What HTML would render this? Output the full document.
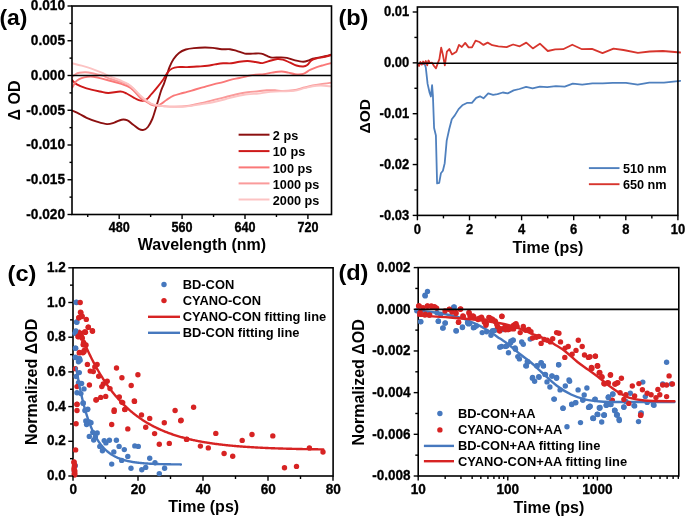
<!DOCTYPE html>
<html><head><meta charset="utf-8"><style>
html,body{margin:0;padding:0;background:#fff;}
body{width:685px;height:516px;overflow:hidden;}
svg{display:block;will-change:transform;}
text{font-family:"Liberation Sans",sans-serif;font-weight:bold;fill:#000;}
.tk{stroke:#000;stroke-width:0.3px;}
</style></head><body>
<svg width="685" height="516" viewBox="0 0 685 516">
<rect width="685" height="516" fill="#fff"/>
<defs><clipPath id="clipA"><rect x="72" y="6" width="259.5" height="208.5"/></clipPath><clipPath id="clipB"><rect x="417.4" y="7" width="263.5" height="208.4"/></clipPath><clipPath id="clipD"><rect x="415.2" y="267.6" width="263.59999999999997" height="208.39999999999998"/></clipPath></defs>
<g clip-path="url(#clipA)">
<path d="M72,110.5 C73.22,111.07 76.87,112.68 79.3,113.9 C81.73,115.12 83.68,116.52 86.6,117.8 C89.52,119.08 93.4,120.55 96.8,121.6 C100.2,122.65 104.08,123.93 107,124.1 C109.92,124.27 111.87,123.33 114.3,122.6 C116.73,121.87 119.4,120.07 121.6,119.7 C123.8,119.33 125.55,119.55 127.5,120.4 C129.45,121.25 131.35,123.33 133.3,124.8 C135.25,126.27 137.5,128.35 139.2,129.2 C140.9,130.05 142.05,130.27 143.5,129.9 C144.95,129.53 146.43,128.82 147.9,127 C149.37,125.18 151.08,121.8 152.3,119 C153.52,116.2 154.25,113.2 155.2,110.2 C156.15,107.2 157.03,104.2 158,101 C158.97,97.8 159.98,93.93 161,91 C162.02,88.07 163.13,86.02 164.1,83.4 C165.07,80.78 165.9,78.02 166.8,75.3 C167.7,72.58 168.37,69.82 169.5,67.1 C170.63,64.38 172.02,61.37 173.6,59 C175.18,56.63 176.97,54.48 179,52.9 C181.03,51.32 183.32,50.3 185.8,49.5 C188.28,48.7 190.73,48.43 193.9,48.1 C197.07,47.77 201.63,47.53 204.8,47.5 C207.97,47.47 210.07,47.62 212.9,47.9 C215.73,48.18 218.97,48.98 221.8,49.2 C224.63,49.42 227.42,48.92 229.9,49.2 C232.38,49.48 234.2,50.17 236.7,50.9 C239.2,51.63 242.18,53.15 244.9,53.6 C247.62,54.05 250.28,53.6 253,53.6 C255.72,53.6 258.72,53.15 261.2,53.6 C263.68,54.05 266.1,55.63 267.9,56.3 C269.7,56.97 269.97,57.42 272,57.6 C274.03,57.78 277.62,57.35 280.1,57.4 C282.58,57.45 284.4,57.4 286.9,57.9 C289.4,58.4 292.38,59.77 295.1,60.4 C297.82,61.03 300.93,61.7 303.2,61.7 C305.47,61.7 307.12,60.9 308.7,60.4 C310.28,59.9 310.9,59.2 312.7,58.7 C314.5,58.2 317.23,57.85 319.5,57.4 C321.77,56.95 324.3,56.48 326.3,56 C328.3,55.52 330.63,54.75 331.5,54.5" fill="none" stroke="#8c1010" stroke-width="1.9" stroke-linejoin="round" stroke-linecap="round"/>
<path d="M72,80 C72.8,80.73 74.38,83.02 76.8,84.4 C79.22,85.78 82.63,87.12 86.5,88.3 C90.37,89.48 96.38,90.72 100,91.5 C103.62,92.28 104.8,93 108.2,93 C111.6,93 117.33,91.42 120.4,91.5 C123.47,91.58 124.38,92.48 126.6,93.5 C128.82,94.52 131.67,96.5 133.7,97.6 C135.73,98.7 137.27,99.58 138.8,100.1 C140.33,100.62 141.53,100.87 142.9,100.7 C144.27,100.53 145.63,100.13 147,99.1 C148.37,98.07 149.4,96.45 151.1,94.5 C152.8,92.55 155.15,89.95 157.2,87.4 C159.25,84.85 161.58,81.78 163.4,79.2 C165.22,76.62 166.63,73.68 168.1,71.9 C169.57,70.12 170.62,69.3 172.2,68.5 C173.78,67.7 175.12,67.33 177.6,67.1 C180.08,66.87 183.7,67.2 187.1,67.1 C190.5,67 194.6,66.72 198,66.5 C201.4,66.28 204.67,66.15 207.5,65.8 C210.33,65.45 212.4,64.82 215,64.4 C217.6,63.98 220.38,63.48 223.1,63.3 C225.82,63.12 228.58,63.57 231.3,63.3 C234.02,63.03 236.68,62.08 239.4,61.7 C242.12,61.32 244.88,60.95 247.6,61 C250.32,61.05 253.22,61.65 255.7,62 C258.18,62.35 260.23,63.27 262.5,63.1 C264.77,62.93 266.82,61.68 269.3,61 C271.78,60.32 275.13,59.22 277.4,59 C279.67,58.78 280.87,59.13 282.9,59.7 C284.93,60.27 287.35,61.43 289.6,62.4 C291.85,63.37 294.13,64.82 296.4,65.5 C298.67,66.18 301.38,66.57 303.2,66.5 C305.02,66.43 305.93,66.12 307.3,65.1 C308.67,64.08 309.82,61.53 311.4,60.4 C312.98,59.27 314.77,58.87 316.8,58.3 C318.83,57.73 321.15,57.55 323.6,57 C326.05,56.45 330.18,55.33 331.5,55" fill="none" stroke="#cd1919" stroke-width="1.9" stroke-linejoin="round" stroke-linecap="round"/>
<path d="M72.3,87.5 C72.9,86.5 74.73,82.9 75.9,81.5 C77.07,80.1 77.93,79.78 79.3,79.1 C80.67,78.42 82.25,77.82 84.1,77.4 C85.95,76.98 88.38,76.63 90.4,76.6 C92.42,76.57 94.27,76.85 96.2,77.2 C98.13,77.55 99.57,78.07 102,78.7 C104.43,79.33 107.73,80.18 110.8,81 C113.87,81.82 117.08,82.43 120.4,83.6 C123.72,84.77 127.28,85.52 130.7,88 C134.12,90.48 138.35,96.25 140.9,98.5 C143.45,100.75 144.32,100.5 146,101.5 C147.68,102.5 149.13,103.78 151,104.5 C152.87,105.22 155.48,105.93 157.2,105.8 C158.92,105.67 159.7,104.72 161.3,103.7 C162.9,102.68 164.75,101.03 166.8,99.7 C168.85,98.37 171.33,96.72 173.6,95.7 C175.87,94.68 178.15,94.23 180.4,93.6 C182.65,92.97 184.62,92.58 187.1,91.9 C189.58,91.22 192.35,90.35 195.3,89.5 C198.25,88.65 201.63,87.7 204.8,86.8 C207.97,85.9 211.25,84.88 214.3,84.1 C217.35,83.32 220.27,82.85 223.1,82.1 C225.93,81.35 228.58,80.28 231.3,79.6 C234.02,78.92 236.68,78.6 239.4,78 C242.12,77.4 244.88,76.57 247.6,76 C250.32,75.43 252.98,74.9 255.7,74.6 C258.42,74.3 261.18,74.53 263.9,74.2 C266.62,73.87 269.07,73.05 272,72.6 C274.93,72.15 278.78,71.5 281.5,71.5 C284.22,71.5 286.03,72.15 288.3,72.6 C290.57,73.05 292.62,73.98 295.1,74.2 C297.58,74.42 300.72,74.62 303.2,73.9 C305.68,73.18 307.73,71.03 310,69.9 C312.27,68.77 314.53,67.9 316.8,67.1 C319.07,66.3 321.15,65.78 323.6,65.1 C326.05,64.42 330.18,63.35 331.5,63" fill="none" stroke="#fa7878" stroke-width="1.9" stroke-linejoin="round" stroke-linecap="round"/>
<path d="M72.3,76.8 C72.83,76.37 74.33,74.87 75.5,74.2 C76.67,73.53 77.62,73.12 79.3,72.8 C80.98,72.48 83.42,72.23 85.6,72.3 C87.78,72.37 90.47,72.83 92.4,73.2 C94.33,73.57 95.6,74.13 97.2,74.5 C98.8,74.87 99.73,74.65 102,75.4 C104.27,76.15 107.72,77.9 110.8,79 C113.88,80.1 117.6,81.07 120.5,82 C123.4,82.93 125.95,83.35 128.2,84.6 C130.45,85.85 131.88,87.43 134,89.5 C136.12,91.57 138.9,95.15 140.9,97 C142.9,98.85 144.32,99.43 146,100.6 C147.68,101.77 149.13,103.17 151,104 C152.87,104.83 154.87,105.22 157.2,105.6 C159.53,105.98 162.27,106.13 165,106.3 C167.73,106.47 169.92,106.65 173.6,106.6 C177.28,106.55 182.58,106.55 187.1,106 C191.62,105.45 196.05,104.35 200.7,103.3 C205.35,102.25 210.8,100.75 215,99.7 C219.2,98.65 222.28,97.9 225.9,97 C229.52,96.1 233.08,95.08 236.7,94.3 C240.32,93.52 243.98,92.8 247.6,92.3 C251.22,91.8 255.23,91.65 258.4,91.3 C261.57,90.95 263.83,90.38 266.6,90.2 C269.37,90.02 272.28,90.07 275,90.2 C277.72,90.33 279.78,91 282.9,91 C286.02,91 290.08,90.78 293.7,90.2 C297.32,89.62 301.43,88.28 304.6,87.5 C307.77,86.72 309.98,86.07 312.7,85.5 C315.42,84.93 317.77,84.57 320.9,84.1 C324.03,83.63 329.73,82.93 331.5,82.7" fill="none" stroke="#fa9b9b" stroke-width="1.9" stroke-linejoin="round" stroke-linecap="round"/>
<path d="M72,63.2 C73.62,63.62 78.47,64.8 81.7,65.7 C84.93,66.6 88.17,67.48 91.4,68.6 C94.63,69.72 97.87,71.03 101.1,72.4 C104.33,73.77 107.57,75.45 110.8,76.8 C114.03,78.15 117.6,79.28 120.5,80.5 C123.4,81.72 125.95,82.68 128.2,84.1 C130.45,85.52 131.88,87.02 134,89 C136.12,90.98 138.9,94.13 140.9,96 C142.9,97.87 144.32,98.95 146,100.2 C147.68,101.45 149.13,102.65 151,103.5 C152.87,104.35 154.87,104.83 157.2,105.3 C159.53,105.77 162.27,106.05 165,106.3 C167.73,106.55 169.92,106.78 173.6,106.8 C177.28,106.82 182.58,106.82 187.1,106.4 C191.62,105.98 196.05,105.07 200.7,104.3 C205.35,103.53 210.8,102.68 215,101.8 C219.2,100.92 222.28,99.92 225.9,99 C229.52,98.08 233.08,97.08 236.7,96.3 C240.32,95.52 243.98,94.75 247.6,94.3 C251.22,93.85 255.23,93.93 258.4,93.6 C261.57,93.27 263.83,92.63 266.6,92.3 C269.37,91.97 272.28,91.77 275,91.6 C277.72,91.43 279.78,91.42 282.9,91.3 C286.02,91.18 290.08,91.42 293.7,90.9 C297.32,90.38 301.43,88.98 304.6,88.2 C307.77,87.42 309.98,86.65 312.7,86.2 C315.42,85.75 317.77,85.47 320.9,85.5 C324.03,85.53 329.73,86.25 331.5,86.4" fill="none" stroke="#fcc3c3" stroke-width="1.9" stroke-linejoin="round" stroke-linecap="round"/>
</g>
<line x1="72" y1="75.5" x2="331.5" y2="75.5" stroke="#000" stroke-width="1.7"/>
<rect x="72" y="6" width="259.5" height="208.5" fill="none" stroke="#000" stroke-width="1.6"/>
<line x1="67.5" y1="6" x2="72" y2="6" stroke="#000" stroke-width="1.4"/>
<text transform="translate(65.1 10.3) scale(1.0 1.04)" font-size="13.7" text-anchor="end" class="tk">0.010</text>
<line x1="67.5" y1="40.75" x2="72" y2="40.75" stroke="#000" stroke-width="1.4"/>
<text transform="translate(65.1 45.05) scale(1.0 1.04)" font-size="13.7" text-anchor="end" class="tk">0.005</text>
<line x1="67.5" y1="75.5" x2="72" y2="75.5" stroke="#000" stroke-width="1.4"/>
<text transform="translate(65.1 79.8) scale(1.0 1.04)" font-size="13.7" text-anchor="end" class="tk">0.000</text>
<line x1="67.5" y1="110.25" x2="72" y2="110.25" stroke="#000" stroke-width="1.4"/>
<text transform="translate(65.1 114.55) scale(1.0 1.04)" font-size="13.7" text-anchor="end" class="tk">-0.005</text>
<line x1="67.5" y1="145" x2="72" y2="145" stroke="#000" stroke-width="1.4"/>
<text transform="translate(65.1 149.3) scale(1.0 1.04)" font-size="13.7" text-anchor="end" class="tk">-0.010</text>
<line x1="67.5" y1="179.75" x2="72" y2="179.75" stroke="#000" stroke-width="1.4"/>
<text transform="translate(65.1 184.05) scale(1.0 1.04)" font-size="13.7" text-anchor="end" class="tk">-0.015</text>
<line x1="67.5" y1="214.5" x2="72" y2="214.5" stroke="#000" stroke-width="1.4"/>
<text transform="translate(65.1 218.8) scale(1.0 1.04)" font-size="13.7" text-anchor="end" class="tk">-0.020</text>
<line x1="69.5" y1="23.38" x2="72" y2="23.38" stroke="#000" stroke-width="1.4"/>
<line x1="69.5" y1="58.12" x2="72" y2="58.12" stroke="#000" stroke-width="1.4"/>
<line x1="69.5" y1="92.88" x2="72" y2="92.88" stroke="#000" stroke-width="1.4"/>
<line x1="69.5" y1="127.63" x2="72" y2="127.63" stroke="#000" stroke-width="1.4"/>
<line x1="69.5" y1="162.38" x2="72" y2="162.38" stroke="#000" stroke-width="1.4"/>
<line x1="69.5" y1="197.13" x2="72" y2="197.13" stroke="#000" stroke-width="1.4"/>
<line x1="119.18" y1="214.5" x2="119.18" y2="219" stroke="#000" stroke-width="1.4"/>
<text transform="translate(119.18 232) scale(1.0 1.1)" font-size="12.6" text-anchor="middle" class="tk">480</text>
<line x1="182.09" y1="214.5" x2="182.09" y2="219" stroke="#000" stroke-width="1.4"/>
<text transform="translate(182.09 232) scale(1.0 1.1)" font-size="12.6" text-anchor="middle" class="tk">560</text>
<line x1="245" y1="214.5" x2="245" y2="219" stroke="#000" stroke-width="1.4"/>
<text transform="translate(245 232) scale(1.0 1.1)" font-size="12.6" text-anchor="middle" class="tk">640</text>
<line x1="307.91" y1="214.5" x2="307.91" y2="219" stroke="#000" stroke-width="1.4"/>
<text transform="translate(307.91 232) scale(1.0 1.1)" font-size="12.6" text-anchor="middle" class="tk">720</text>
<line x1="87.73" y1="214.5" x2="87.73" y2="217" stroke="#000" stroke-width="1.4"/>
<line x1="150.64" y1="214.5" x2="150.64" y2="217" stroke="#000" stroke-width="1.4"/>
<line x1="213.55" y1="214.5" x2="213.55" y2="217" stroke="#000" stroke-width="1.4"/>
<line x1="276.45" y1="214.5" x2="276.45" y2="217" stroke="#000" stroke-width="1.4"/>
<text x="202" y="250.1" font-size="16" text-anchor="middle">Wavelength (nm)</text>
<text x="20.2" y="100.5" font-size="16" text-anchor="middle" transform="rotate(-90 20.2 100.5)">&#916; OD</text>
<text transform="translate(-0.6 24.9) scale(1.04 1.03)" font-size="22" text-anchor="start">(a)</text>
<line x1="238.6" y1="134.7" x2="269.5" y2="134.7" stroke="#8c1010" stroke-width="2.0"/>
<text transform="translate(272.8 140) scale(1.0 1.05)" font-size="12.7" text-anchor="start">2 ps</text>
<line x1="238.6" y1="151.1" x2="269.5" y2="151.1" stroke="#cd1919" stroke-width="2.0"/>
<text transform="translate(272.8 156.4) scale(1.0 1.05)" font-size="12.7" text-anchor="start">10 ps</text>
<line x1="238.6" y1="167.4" x2="269.5" y2="167.4" stroke="#fa7878" stroke-width="2.0"/>
<text transform="translate(272.8 172.7) scale(1.0 1.05)" font-size="12.7" text-anchor="start">100 ps</text>
<line x1="238.6" y1="183.4" x2="269.5" y2="183.4" stroke="#fa9b9b" stroke-width="2.0"/>
<text transform="translate(272.8 188.7) scale(1.0 1.05)" font-size="12.7" text-anchor="start">1000 ps</text>
<line x1="238.6" y1="199.5" x2="269.5" y2="199.5" stroke="#fcc3c3" stroke-width="2.0"/>
<text transform="translate(272.8 204.8) scale(1.0 1.05)" font-size="12.7" text-anchor="start">2000 ps</text>
<g clip-path="url(#clipB)">
<polyline points="417,64 420,64 424.6,63.8 425.8,67.6 427.6,83.9 429.6,92.7 430.9,96.5 432.1,85.2 432.9,95.3 434.1,128 435.9,135.5 437.1,183.4 439.2,182.9 440.9,173.3 442.9,170.8 444.7,163.2 446.7,140.6 449.2,129.3 451.8,119.2 454.8,115.4 458.6,109.1 462.3,105.3 467.4,102.8 471.9,102.8 476.2,97.8 480,96.3 483.5,98.3 488.2,93.4 493.1,94.8 497.5,94.2 502.8,92.5 507.7,93.4 513.6,90.4 519.4,89 526.1,86.9 532.6,88.4 539.9,86.6 547.2,87.2 555.9,86.1 564.7,86.6 572.8,83.7 582.2,84.6 592.4,83.4 602.6,83.4 612.8,82.8 626,82.8 637.7,84.6 649.3,82.6 664,82.6 680.5,80.8" fill="none" stroke="#4f80be" stroke-width="1.8" stroke-linejoin="round" stroke-linecap="round"/>
<polyline points="417,63.9 419,66 420.4,61.9 421.8,64.6 423.1,61.5 424.5,63.9 425.8,61 427.2,65.3 428.5,60.5 429.9,63.2 432,62.6 434,66 436,68.3 438,62.6 439.4,59.2 441.2,47.6 442.8,54.4 444.8,65.3 446.9,51.7 449.3,49 452,54.4 456.4,51.7 459,44.9 461.8,47 465.2,42.9 468.6,47.4 472,47.4 475.6,40.6 479.4,42 483.5,44.9 487.6,42.6 492.3,45.2 498.4,46.3 506.6,47.1 513.1,44.5 519.7,46.3 526.3,42.6 532.8,48.4 539.9,43.7 547.8,51 555.2,49.4 563.1,49.2 572.3,44.7 582,49.2 592,48.9 602.5,53.1 613.5,48.7 623.5,50 637.9,52.9 649.8,51.5 662.9,51 680.5,52.5" fill="none" stroke="#d7352d" stroke-width="1.8" stroke-linejoin="round" stroke-linecap="round"/>
</g>
<line x1="417.4" y1="63.2" x2="677.9" y2="63.2" stroke="#000" stroke-width="1.6"/>
<rect x="417.4" y="7" width="260.5" height="208.4" fill="none" stroke="#000" stroke-width="1.6"/>
<line x1="412.7" y1="12" x2="417.4" y2="12" stroke="#000" stroke-width="1.4"/>
<text transform="translate(409.2 16.3) scale(1.0 1.1)" font-size="13" text-anchor="end" class="tk">0.01</text>
<line x1="412.7" y1="62.85" x2="417.4" y2="62.85" stroke="#000" stroke-width="1.4"/>
<text transform="translate(409.2 67.15) scale(1.0 1.1)" font-size="13" text-anchor="end" class="tk">0.00</text>
<line x1="412.7" y1="113.7" x2="417.4" y2="113.7" stroke="#000" stroke-width="1.4"/>
<text transform="translate(409.2 118) scale(1.0 1.1)" font-size="13" text-anchor="end" class="tk">-0.01</text>
<line x1="412.7" y1="164.55" x2="417.4" y2="164.55" stroke="#000" stroke-width="1.4"/>
<text transform="translate(409.2 168.85) scale(1.0 1.1)" font-size="13" text-anchor="end" class="tk">-0.02</text>
<line x1="412.7" y1="215.4" x2="417.4" y2="215.4" stroke="#000" stroke-width="1.4"/>
<text transform="translate(409.2 219.7) scale(1.0 1.1)" font-size="13" text-anchor="end" class="tk">-0.03</text>
<line x1="414.4" y1="37.43" x2="417.4" y2="37.43" stroke="#000" stroke-width="1.4"/>
<line x1="414.4" y1="88.28" x2="417.4" y2="88.28" stroke="#000" stroke-width="1.4"/>
<line x1="414.4" y1="139.12" x2="417.4" y2="139.12" stroke="#000" stroke-width="1.4"/>
<line x1="414.4" y1="189.98" x2="417.4" y2="189.98" stroke="#000" stroke-width="1.4"/>
<line x1="417.4" y1="215.4" x2="417.4" y2="220.3" stroke="#000" stroke-width="1.4"/>
<text transform="translate(417.4 233.8) scale(1.0 1.12)" font-size="13" text-anchor="middle" class="tk">0</text>
<line x1="469.5" y1="215.4" x2="469.5" y2="220.3" stroke="#000" stroke-width="1.4"/>
<text transform="translate(469.5 233.8) scale(1.0 1.12)" font-size="13" text-anchor="middle" class="tk">2</text>
<line x1="521.6" y1="215.4" x2="521.6" y2="220.3" stroke="#000" stroke-width="1.4"/>
<text transform="translate(521.6 233.8) scale(1.0 1.12)" font-size="13" text-anchor="middle" class="tk">4</text>
<line x1="573.7" y1="215.4" x2="573.7" y2="220.3" stroke="#000" stroke-width="1.4"/>
<text transform="translate(573.7 233.8) scale(1.0 1.12)" font-size="13" text-anchor="middle" class="tk">6</text>
<line x1="625.8" y1="215.4" x2="625.8" y2="220.3" stroke="#000" stroke-width="1.4"/>
<text transform="translate(625.8 233.8) scale(1.0 1.12)" font-size="13" text-anchor="middle" class="tk">8</text>
<line x1="677.9" y1="215.4" x2="677.9" y2="220.3" stroke="#000" stroke-width="1.4"/>
<text transform="translate(677.9 233.8) scale(1.0 1.12)" font-size="13" text-anchor="middle" class="tk">10</text>
<line x1="443.45" y1="215.4" x2="443.45" y2="218.4" stroke="#000" stroke-width="1.4"/>
<line x1="495.55" y1="215.4" x2="495.55" y2="218.4" stroke="#000" stroke-width="1.4"/>
<line x1="547.65" y1="215.4" x2="547.65" y2="218.4" stroke="#000" stroke-width="1.4"/>
<line x1="599.75" y1="215.4" x2="599.75" y2="218.4" stroke="#000" stroke-width="1.4"/>
<line x1="651.85" y1="215.4" x2="651.85" y2="218.4" stroke="#000" stroke-width="1.4"/>
<text x="548" y="253.2" font-size="16" text-anchor="middle">Time (ps)</text>
<text x="369.9" y="116.3" font-size="15.5" text-anchor="middle" transform="rotate(-90 369.9 116.3)">&#916;OD</text>
<text transform="translate(338.4 25.1) scale(1.07 1.0)" font-size="22" text-anchor="start">(b)</text>
<line x1="588.9" y1="168.1" x2="619.5" y2="168.1" stroke="#4f80be" stroke-width="1.9"/>
<line x1="588.9" y1="184.2" x2="619.5" y2="184.2" stroke="#d7352d" stroke-width="1.9"/>
<text transform="translate(622.9 173) scale(1.0 1.05)" font-size="12.7" text-anchor="start">510 nm</text>
<text transform="translate(622.9 189.1) scale(1.0 1.05)" font-size="12.7" text-anchor="start">650 nm</text>
<rect x="73" y="267.8" width="260.1" height="208.2" fill="none" stroke="#000" stroke-width="1.6"/>
<circle cx="76.5" cy="302.5" r="2.7" fill="#4678be"/>
<circle cx="76.8" cy="322.2" r="2.7" fill="#4678be"/>
<circle cx="76.1" cy="331.4" r="2.7" fill="#4678be"/>
<circle cx="75.4" cy="333.1" r="2.7" fill="#4678be"/>
<circle cx="75.7" cy="348.3" r="2.7" fill="#4678be"/>
<circle cx="75.4" cy="357.2" r="2.7" fill="#4678be"/>
<circle cx="79.5" cy="358.5" r="2.7" fill="#4678be"/>
<circle cx="76.2" cy="332.3" r="2.7" fill="#4678be"/>
<circle cx="75.4" cy="348.3" r="2.7" fill="#4678be"/>
<circle cx="75.4" cy="357.6" r="2.7" fill="#4678be"/>
<circle cx="80.1" cy="360.2" r="2.7" fill="#4678be"/>
<circle cx="78.5" cy="361.8" r="2.7" fill="#4678be"/>
<circle cx="79.3" cy="372.6" r="2.7" fill="#4678be"/>
<circle cx="76.2" cy="376.5" r="2.7" fill="#4678be"/>
<circle cx="78.5" cy="382.7" r="2.7" fill="#4678be"/>
<circle cx="81.6" cy="383.5" r="2.7" fill="#4678be"/>
<circle cx="77" cy="392.8" r="2.7" fill="#4678be"/>
<circle cx="84" cy="388.9" r="2.7" fill="#4678be"/>
<circle cx="80.9" cy="393.6" r="2.7" fill="#4678be"/>
<circle cx="83.2" cy="402.9" r="2.7" fill="#4678be"/>
<circle cx="87.8" cy="409.1" r="2.7" fill="#4678be"/>
<circle cx="83.1" cy="403.2" r="2.7" fill="#4678be"/>
<circle cx="84.9" cy="410.5" r="2.7" fill="#4678be"/>
<circle cx="87.5" cy="409.6" r="2.7" fill="#4678be"/>
<circle cx="85.8" cy="421" r="2.7" fill="#4678be"/>
<circle cx="89.3" cy="421.9" r="2.7" fill="#4678be"/>
<circle cx="86.6" cy="424.5" r="2.7" fill="#4678be"/>
<circle cx="91" cy="422.8" r="2.7" fill="#4678be"/>
<circle cx="92.8" cy="432.4" r="2.7" fill="#4678be"/>
<circle cx="97.2" cy="432.9" r="2.7" fill="#4678be"/>
<circle cx="89.3" cy="436.4" r="2.7" fill="#4678be"/>
<circle cx="93.7" cy="440" r="2.7" fill="#4678be"/>
<circle cx="95.4" cy="436.8" r="2.7" fill="#4678be"/>
<circle cx="104.2" cy="440.6" r="2.7" fill="#4678be"/>
<circle cx="109.4" cy="440.3" r="2.7" fill="#4678be"/>
<circle cx="105.9" cy="442.9" r="2.7" fill="#4678be"/>
<circle cx="116.4" cy="440.3" r="2.7" fill="#4678be"/>
<circle cx="99.8" cy="446.4" r="2.7" fill="#4678be"/>
<circle cx="102.4" cy="450.8" r="2.7" fill="#4678be"/>
<circle cx="119.1" cy="446.4" r="2.7" fill="#4678be"/>
<circle cx="124.3" cy="449.6" r="2.7" fill="#4678be"/>
<circle cx="113.8" cy="451.9" r="2.7" fill="#4678be"/>
<circle cx="127.8" cy="456.4" r="2.7" fill="#4678be"/>
<circle cx="121.7" cy="460.4" r="2.7" fill="#4678be"/>
<circle cx="134.8" cy="445.9" r="2.7" fill="#4678be"/>
<circle cx="138.3" cy="446.4" r="2.7" fill="#4678be"/>
<circle cx="149.7" cy="458.2" r="2.7" fill="#4678be"/>
<circle cx="155" cy="462.7" r="2.7" fill="#4678be"/>
<circle cx="111.7" cy="464.1" r="2.7" fill="#4678be"/>
<circle cx="131" cy="468.3" r="2.7" fill="#4678be"/>
<circle cx="141.8" cy="469.7" r="2.7" fill="#4678be"/>
<circle cx="145.7" cy="467.4" r="2.7" fill="#4678be"/>
<circle cx="159.3" cy="473.6" r="2.7" fill="#4678be"/>
<circle cx="164.6" cy="468.3" r="2.7" fill="#4678be"/>
<circle cx="75.3" cy="465.7" r="2.7" fill="#4678be"/>
<circle cx="74.4" cy="471.8" r="2.7" fill="#4678be"/>
<circle cx="76.3" cy="302.2" r="2.7" fill="#4678be"/>
<circle cx="76.7" cy="322" r="2.7" fill="#4678be"/>
<circle cx="75.9" cy="330.9" r="2.7" fill="#4678be"/>
<circle cx="75.1" cy="333.2" r="2.7" fill="#4678be"/>
<circle cx="80.2" cy="302.5" r="2.7" fill="#d72323"/>
<circle cx="80.9" cy="312.8" r="2.7" fill="#d72323"/>
<circle cx="81.9" cy="316.5" r="2.7" fill="#d72323"/>
<circle cx="78.8" cy="317.8" r="2.7" fill="#d72323"/>
<circle cx="86.3" cy="319.4" r="2.7" fill="#d72323"/>
<circle cx="88.3" cy="327.3" r="2.7" fill="#d72323"/>
<circle cx="92.4" cy="330.7" r="2.7" fill="#d72323"/>
<circle cx="84.9" cy="332.3" r="2.7" fill="#d72323"/>
<circle cx="80.2" cy="334.1" r="2.7" fill="#d72323"/>
<circle cx="78.1" cy="336.8" r="2.7" fill="#d72323"/>
<circle cx="82.2" cy="338.2" r="2.7" fill="#d72323"/>
<circle cx="83.6" cy="344.5" r="2.7" fill="#d72323"/>
<circle cx="86" cy="344.9" r="2.7" fill="#d72323"/>
<circle cx="84.2" cy="350.4" r="2.7" fill="#d72323"/>
<circle cx="79.5" cy="352.4" r="2.7" fill="#d72323"/>
<circle cx="82.9" cy="352.7" r="2.7" fill="#d72323"/>
<circle cx="85.5" cy="332.3" r="2.7" fill="#d72323"/>
<circle cx="92.5" cy="331.2" r="2.7" fill="#d72323"/>
<circle cx="79.3" cy="336.2" r="2.7" fill="#d72323"/>
<circle cx="81.6" cy="337" r="2.7" fill="#d72323"/>
<circle cx="83.2" cy="344.7" r="2.7" fill="#d72323"/>
<circle cx="85.5" cy="345.2" r="2.7" fill="#d72323"/>
<circle cx="79.3" cy="352.9" r="2.7" fill="#d72323"/>
<circle cx="84" cy="351.7" r="2.7" fill="#d72323"/>
<circle cx="87.4" cy="364.4" r="2.7" fill="#d72323"/>
<circle cx="97.1" cy="364.4" r="2.7" fill="#d72323"/>
<circle cx="94.8" cy="366.9" r="2.7" fill="#d72323"/>
<circle cx="90.2" cy="371.1" r="2.7" fill="#d72323"/>
<circle cx="93.3" cy="371.6" r="2.7" fill="#d72323"/>
<circle cx="116.5" cy="368" r="2.7" fill="#d72323"/>
<circle cx="75.4" cy="368.8" r="2.7" fill="#d72323"/>
<circle cx="98.7" cy="376.2" r="2.7" fill="#d72323"/>
<circle cx="121.9" cy="377.8" r="2.7" fill="#d72323"/>
<circle cx="137.9" cy="374.7" r="2.7" fill="#d72323"/>
<circle cx="107.2" cy="381.2" r="2.7" fill="#d72323"/>
<circle cx="103.3" cy="384" r="2.7" fill="#d72323"/>
<circle cx="101.8" cy="386.6" r="2.7" fill="#d72323"/>
<circle cx="89.4" cy="385" r="2.7" fill="#d72323"/>
<circle cx="77" cy="386.6" r="2.7" fill="#d72323"/>
<circle cx="110" cy="388.6" r="2.7" fill="#d72323"/>
<circle cx="131.2" cy="385.5" r="2.7" fill="#d72323"/>
<circle cx="96.4" cy="399.8" r="2.7" fill="#d72323"/>
<circle cx="100.7" cy="397.4" r="2.7" fill="#d72323"/>
<circle cx="105.7" cy="396.4" r="2.7" fill="#d72323"/>
<circle cx="119.3" cy="397" r="2.7" fill="#d72323"/>
<circle cx="122.7" cy="402.6" r="2.7" fill="#d72323"/>
<circle cx="134.3" cy="401" r="2.7" fill="#d72323"/>
<circle cx="77" cy="404.1" r="2.7" fill="#d72323"/>
<circle cx="114.2" cy="410" r="2.7" fill="#d72323"/>
<circle cx="125" cy="409.4" r="2.7" fill="#d72323"/>
<circle cx="77" cy="404.4" r="2.7" fill="#d72323"/>
<circle cx="77" cy="410.5" r="2.7" fill="#d72323"/>
<circle cx="76.1" cy="423.7" r="2.7" fill="#d72323"/>
<circle cx="75.6" cy="449.9" r="2.7" fill="#d72323"/>
<circle cx="74" cy="462" r="2.7" fill="#d72323"/>
<circle cx="74.5" cy="466" r="2.7" fill="#d72323"/>
<circle cx="74" cy="470" r="2.7" fill="#d72323"/>
<circle cx="74.8" cy="473.5" r="2.7" fill="#d72323"/>
<circle cx="95.9" cy="400" r="2.7" fill="#d72323"/>
<circle cx="121.7" cy="402.1" r="2.7" fill="#d72323"/>
<circle cx="134.5" cy="401.4" r="2.7" fill="#d72323"/>
<circle cx="114.1" cy="411.4" r="2.7" fill="#d72323"/>
<circle cx="124.7" cy="409.6" r="2.7" fill="#d72323"/>
<circle cx="111.7" cy="424.5" r="2.7" fill="#d72323"/>
<circle cx="141.5" cy="414.9" r="2.7" fill="#d72323"/>
<circle cx="149.7" cy="418.4" r="2.7" fill="#d72323"/>
<circle cx="127.8" cy="428.9" r="2.7" fill="#d72323"/>
<circle cx="145.7" cy="427.2" r="2.7" fill="#d72323"/>
<circle cx="164.3" cy="422.8" r="2.7" fill="#d72323"/>
<circle cx="154.6" cy="433.6" r="2.7" fill="#d72323"/>
<circle cx="175.1" cy="410.5" r="2.7" fill="#d72323"/>
<circle cx="180.7" cy="420.7" r="2.7" fill="#d72323"/>
<circle cx="159.3" cy="444.3" r="2.7" fill="#d72323"/>
<circle cx="169.3" cy="443.4" r="2.7" fill="#d72323"/>
<circle cx="186.5" cy="439.4" r="2.7" fill="#d72323"/>
<circle cx="181.1" cy="420.3" r="2.7" fill="#d72323"/>
<circle cx="193.6" cy="407.2" r="2.7" fill="#d72323"/>
<circle cx="186.8" cy="439.3" r="2.7" fill="#d72323"/>
<circle cx="200.4" cy="446.1" r="2.7" fill="#d72323"/>
<circle cx="208.3" cy="447.9" r="2.7" fill="#d72323"/>
<circle cx="215.8" cy="433.4" r="2.7" fill="#d72323"/>
<circle cx="224.1" cy="453.5" r="2.7" fill="#d72323"/>
<circle cx="232.7" cy="456.3" r="2.7" fill="#d72323"/>
<circle cx="242.2" cy="440.4" r="2.7" fill="#d72323"/>
<circle cx="252" cy="434.5" r="2.7" fill="#d72323"/>
<circle cx="272.8" cy="435.9" r="2.7" fill="#d72323"/>
<circle cx="284.5" cy="467.8" r="2.7" fill="#d72323"/>
<circle cx="296.5" cy="466.4" r="2.7" fill="#d72323"/>
<circle cx="309.4" cy="447.9" r="2.7" fill="#d72323"/>
<circle cx="323" cy="452" r="2.7" fill="#d72323"/>
<circle cx="80.5" cy="312.3" r="2.7" fill="#d72323"/>
<circle cx="79" cy="317.7" r="2.7" fill="#d72323"/>
<circle cx="82.1" cy="316.2" r="2.7" fill="#d72323"/>
<circle cx="88.3" cy="327.3" r="2.7" fill="#d72323"/>
<circle cx="84.7" cy="332" r="2.7" fill="#d72323"/>
<circle cx="80.5" cy="333.2" r="2.7" fill="#d72323"/>
<circle cx="78.2" cy="336.6" r="2.7" fill="#d72323"/>
<circle cx="81.6" cy="337.1" r="2.7" fill="#d72323"/>
<circle cx="83.6" cy="342.5" r="2.7" fill="#d72323"/>
<circle cx="74" cy="462.5" r="2.7" fill="#d72323"/>
<circle cx="74.6" cy="465" r="2.7" fill="#d72323"/>
<circle cx="74.1" cy="468" r="2.7" fill="#d72323"/>
<circle cx="74.8" cy="471" r="2.7" fill="#d72323"/>
<circle cx="74.2" cy="474" r="2.7" fill="#d72323"/>
<circle cx="74.6" cy="475" r="2.7" fill="#d72323"/>
<polyline points="79.5,330.77 80.31,332.87 81.12,334.93 81.94,336.96 82.75,338.95 83.56,340.9 84.38,342.83 85.19,344.71 86,346.57 86.81,348.39 87.62,350.18 88.44,351.93 89.25,353.66 90.06,355.36 90.88,357.02 91.69,358.66 92.5,360.27 93.31,361.85 94.12,363.4 94.94,364.92 95.75,366.42 96.56,367.89 97.38,369.34 98.19,370.76 99,372.16 99.81,373.53 100.62,374.87 101.44,376.19 102.25,377.49 103.06,378.77 103.88,380.02 104.69,381.26 105.5,382.47 106.31,383.66 107.12,384.82 107.94,385.97 108.75,387.1 109.56,388.21 110.38,389.29 111.19,390.36 112,391.41 112.81,392.44 113.62,393.46 114.44,394.45 115.25,395.43 116.06,396.39 116.88,397.33 117.69,398.26 118.5,399.17 119.31,400.07 120.12,400.95 120.94,401.81 121.75,402.66 122.56,403.49 123.38,404.31 124.19,405.11 125,405.9 125.81,406.68 126.62,407.44 127.44,408.19 128.25,408.93 129.06,409.65 129.88,410.36 130.69,411.06 131.5,411.74 132.31,412.42 133.12,413.08 133.94,413.73 134.75,414.37 135.56,414.99 136.38,415.61 137.19,416.21 138,416.81 138.81,417.39 139.62,417.97 140.44,418.53 141.25,419.08 142.06,419.63 142.88,420.16 143.69,420.69 144.5,421.2 145.31,421.71 146.12,422.21 146.94,422.7 147.75,423.18 148.56,423.65 149.38,424.11 150.19,424.57 151,425.02 151.81,425.46 152.62,425.89 153.44,426.31 154.25,426.73 155.06,427.14 155.88,427.54 156.69,427.94 157.5,428.32 158.31,428.7 159.12,429.08 159.94,429.45 160.75,429.81 161.56,430.16 162.38,430.51 163.19,430.86 164,431.19 164.81,431.52 165.62,431.85 166.44,432.17 167.25,432.48 168.06,432.79 168.88,433.09 169.69,433.39 170.5,433.68 171.31,433.97 172.12,434.25 172.94,434.53 173.75,434.8 174.56,435.07 175.38,435.33 176.19,435.59 177,435.84 177.81,436.09 178.62,436.33 179.44,436.57 180.25,436.81 181.06,437.04 181.88,437.27 182.69,437.49 183.5,437.71 184.31,437.93 185.12,438.14 185.94,438.35 186.75,438.55 187.56,438.76 188.38,438.95 189.19,439.15 190,439.34 190.81,439.53 191.62,439.71 192.44,439.89 193.25,440.07 194.06,440.24 194.88,440.41 195.69,440.58 196.5,440.75 197.31,440.91 198.12,441.07 198.94,441.23 199.75,441.38 200.56,441.53 201.38,441.68 202.19,441.83 203,441.97 203.81,442.11 204.62,442.25 205.44,442.39 206.25,442.52 207.06,442.65 207.88,442.78 208.69,442.91 209.5,443.03 210.31,443.15 211.12,443.27 211.94,443.39 212.75,443.51 213.56,443.62 214.38,443.73 215.19,443.84 216,443.95 216.81,444.06 217.62,444.16 218.44,444.26 219.25,444.36 220.06,444.46 220.88,444.56 221.69,444.66 222.5,444.75 223.31,444.84 224.12,444.93 224.94,445.02 225.75,445.11 226.56,445.19 227.38,445.28 228.19,445.36 229,445.44 229.81,445.52 230.62,445.6 231.44,445.68 232.25,445.75 233.06,445.83 233.88,445.9 234.69,445.97 235.5,446.04 236.31,446.11 237.12,446.18 237.94,446.25 238.75,446.31 239.56,446.38 240.38,446.44 241.19,446.5 242,446.56 242.81,446.62 243.62,446.68 244.44,446.74 245.25,446.8 246.06,446.85 246.88,446.91 247.69,446.96 248.5,447.02 249.31,447.07 250.12,447.12 250.94,447.17 251.75,447.22 252.56,447.27 253.38,447.31 254.19,447.36 255,447.41 255.81,447.45 256.62,447.5 257.44,447.54 258.25,447.58 259.06,447.63 259.88,447.67 260.69,447.71 261.5,447.75 262.31,447.79 263.12,447.83 263.94,447.86 264.75,447.9 265.56,447.94 266.38,447.97 267.19,448.01 268,448.04 268.81,448.08 269.62,448.11 270.44,448.14 271.25,448.18 272.06,448.21 272.88,448.24 273.69,448.27 274.5,448.3 275.31,448.33 276.12,448.36 276.94,448.39 277.75,448.41 278.56,448.44 279.38,448.47 280.19,448.49 281,448.52 281.81,448.55 282.62,448.57 283.44,448.6 284.25,448.62 285.06,448.64 285.88,448.67 286.69,448.69 287.5,448.71 288.31,448.74 289.12,448.76 289.94,448.78 290.75,448.8 291.56,448.82 292.38,448.84 293.19,448.86 294,448.88 294.81,448.9 295.62,448.92 296.44,448.94 297.25,448.96 298.06,448.97 298.88,448.99 299.69,449.01 300.5,449.03 301.31,449.04 302.12,449.06 302.94,449.08 303.75,449.09 304.56,449.11 305.38,449.12 306.19,449.14 307,449.15 307.81,449.17 308.62,449.18 309.44,449.19 310.25,449.21 311.06,449.22 311.88,449.23 312.69,449.25 313.5,449.26 314.31,449.27 315.12,449.29 315.94,449.3 316.75,449.31 317.56,449.32 318.38,449.33 319.19,449.34 320,449.36 320.81,449.37 321.62,449.38 322.44,449.39 323.25,449.4" fill="none" stroke="#d72323" stroke-width="2.4" stroke-linejoin="round" stroke-linecap="round"/>
<polyline points="76.25,367.67 76.9,371.63 77.55,375.43 78.2,379.08 78.85,382.57 79.5,385.93 80.15,389.14 80.8,392.22 81.45,395.18 82.1,398.02 82.75,400.74 83.4,403.35 84.05,405.85 84.7,408.25 85.35,410.55 86,412.76 86.65,414.88 87.3,416.91 87.95,418.86 88.6,420.73 89.25,422.52 89.9,424.24 90.55,425.89 91.2,427.47 91.85,428.98 92.5,430.44 93.15,431.83 93.8,433.17 94.45,434.45 95.1,435.69 95.75,436.87 96.4,438 97.05,439.08 97.7,440.12 98.35,441.12 99,442.08 99.65,443 100.3,443.88 100.95,444.73 101.6,445.54 102.25,446.31 102.9,447.06 103.55,447.78 104.2,448.46 104.85,449.12 105.5,449.75 106.15,450.36 106.8,450.94 107.45,451.49 108.1,452.03 108.75,452.54 109.4,453.03 110.05,453.5 110.7,453.95 111.35,454.39 112,454.8 112.65,455.2 113.3,455.58 113.95,455.95 114.6,456.3 115.25,456.64 115.9,456.96 116.55,457.27 117.2,457.57 117.85,457.86 118.5,458.13 119.15,458.39 119.8,458.64 120.45,458.88 121.1,459.12 121.75,459.34 122.4,459.55 123.05,459.76 123.7,459.95 124.35,460.14 125,460.32 125.65,460.49 126.3,460.66 126.95,460.82 127.6,460.97 128.25,461.12 128.9,461.26 129.55,461.39 130.2,461.52 130.85,461.64 131.5,461.76 132.15,461.88 132.8,461.99 133.45,462.09 134.1,462.19 134.75,462.29 135.4,462.38 136.05,462.47 136.7,462.55 137.35,462.64 138,462.71 138.65,462.79 139.3,462.86 139.95,462.93 140.6,463 141.25,463.06 141.9,463.12 142.55,463.18 143.2,463.24 143.85,463.29 144.5,463.34 145.15,463.39 145.8,463.44 146.45,463.48 147.1,463.53 147.75,463.57 148.4,463.61 149.05,463.65 149.7,463.68 150.35,463.72 151,463.75 151.65,463.79 152.3,463.82 152.95,463.85 153.6,463.88 154.25,463.9 154.9,463.93 155.55,463.95 156.2,463.98 156.85,464 157.5,464.02 158.15,464.05 158.8,464.07 159.45,464.09 160.1,464.11 160.75,464.12 161.4,464.14 162.05,464.16 162.7,464.17 163.35,464.19 164,464.2 164.65,464.22 165.3,464.23 165.95,464.24 166.6,464.26 167.25,464.27 167.9,464.28 168.55,464.29 169.2,464.3 169.85,464.31 170.5,464.32 171.15,464.33 171.8,464.34 172.45,464.35 173.1,464.36 173.75,464.36 174.4,464.37 175.05,464.38 175.7,464.39 176.35,464.39 177,464.4 177.65,464.41 178.3,464.41 178.95,464.42 179.6,464.42 180.25,464.43 180.9,464.43" fill="none" stroke="#4678be" stroke-width="2.4" stroke-linejoin="round" stroke-linecap="round"/>
<line x1="68.3" y1="476" x2="73" y2="476" stroke="#000" stroke-width="1.4"/>
<text transform="translate(65.7 480.1) scale(1.0 1.08)" font-size="13.5" text-anchor="end" class="tk">0.0</text>
<line x1="68.3" y1="441.3" x2="73" y2="441.3" stroke="#000" stroke-width="1.4"/>
<text transform="translate(65.7 445.4) scale(1.0 1.08)" font-size="13.5" text-anchor="end" class="tk">0.2</text>
<line x1="68.3" y1="406.6" x2="73" y2="406.6" stroke="#000" stroke-width="1.4"/>
<text transform="translate(65.7 410.7) scale(1.0 1.08)" font-size="13.5" text-anchor="end" class="tk">0.4</text>
<line x1="68.3" y1="371.9" x2="73" y2="371.9" stroke="#000" stroke-width="1.4"/>
<text transform="translate(65.7 376) scale(1.0 1.08)" font-size="13.5" text-anchor="end" class="tk">0.6</text>
<line x1="68.3" y1="337.2" x2="73" y2="337.2" stroke="#000" stroke-width="1.4"/>
<text transform="translate(65.7 341.3) scale(1.0 1.08)" font-size="13.5" text-anchor="end" class="tk">0.8</text>
<line x1="68.3" y1="302.5" x2="73" y2="302.5" stroke="#000" stroke-width="1.4"/>
<text transform="translate(65.7 306.6) scale(1.0 1.08)" font-size="13.5" text-anchor="end" class="tk">1.0</text>
<line x1="68.3" y1="267.8" x2="73" y2="267.8" stroke="#000" stroke-width="1.4"/>
<text transform="translate(65.7 271.9) scale(1.0 1.08)" font-size="13.5" text-anchor="end" class="tk">1.2</text>
<line x1="70" y1="458.65" x2="73" y2="458.65" stroke="#000" stroke-width="1.4"/>
<line x1="70" y1="423.95" x2="73" y2="423.95" stroke="#000" stroke-width="1.4"/>
<line x1="70" y1="389.25" x2="73" y2="389.25" stroke="#000" stroke-width="1.4"/>
<line x1="70" y1="354.55" x2="73" y2="354.55" stroke="#000" stroke-width="1.4"/>
<line x1="70" y1="319.85" x2="73" y2="319.85" stroke="#000" stroke-width="1.4"/>
<line x1="70" y1="285.15" x2="73" y2="285.15" stroke="#000" stroke-width="1.4"/>
<line x1="73" y1="476" x2="73" y2="480.7" stroke="#000" stroke-width="1.4"/>
<text transform="translate(73.2 493.7) scale(1.0 1.06)" font-size="13.6" text-anchor="middle" class="tk">0</text>
<line x1="138" y1="476" x2="138" y2="480.7" stroke="#000" stroke-width="1.4"/>
<text transform="translate(138.2 493.7) scale(1.0 1.06)" font-size="13.6" text-anchor="middle" class="tk">20</text>
<line x1="203" y1="476" x2="203" y2="480.7" stroke="#000" stroke-width="1.4"/>
<text transform="translate(203.2 493.7) scale(1.0 1.06)" font-size="13.6" text-anchor="middle" class="tk">40</text>
<line x1="268" y1="476" x2="268" y2="480.7" stroke="#000" stroke-width="1.4"/>
<text transform="translate(268.2 493.7) scale(1.0 1.06)" font-size="13.6" text-anchor="middle" class="tk">60</text>
<line x1="333" y1="476" x2="333" y2="480.7" stroke="#000" stroke-width="1.4"/>
<text transform="translate(333.2 493.7) scale(1.0 1.06)" font-size="13.6" text-anchor="middle" class="tk">80</text>
<line x1="105.5" y1="476" x2="105.5" y2="479" stroke="#000" stroke-width="1.4"/>
<line x1="170.5" y1="476" x2="170.5" y2="479" stroke="#000" stroke-width="1.4"/>
<line x1="235.5" y1="476" x2="235.5" y2="479" stroke="#000" stroke-width="1.4"/>
<line x1="300.5" y1="476" x2="300.5" y2="479" stroke="#000" stroke-width="1.4"/>
<text x="203.7" y="511.9" font-size="16" text-anchor="middle">Time (ps)</text>
<text x="36.6" y="381.9" font-size="16" text-anchor="middle" transform="rotate(-90 36.6 381.9)">Normalized &#916;OD</text>
<text transform="translate(7.6 281.3) scale(1.07 1.0)" font-size="22" text-anchor="start">(c)</text>
<circle cx="164" cy="284.5" r="2.7" fill="#4678be"/>
<circle cx="164" cy="300.6" r="2.7" fill="#d72323"/>
<line x1="148" y1="316.8" x2="180" y2="316.8" stroke="#d72323" stroke-width="2.4"/>
<line x1="148" y1="332.8" x2="180" y2="332.8" stroke="#4678be" stroke-width="2.4"/>
<text transform="translate(182.7 289.1) scale(1.0 1.05)" font-size="12.9" text-anchor="start">BD-CON</text>
<text transform="translate(182.7 305.3) scale(1.0 1.05)" font-size="12.9" text-anchor="start">CYANO-CON</text>
<text transform="translate(182.7 321.2) scale(1.0 1.05)" font-size="12.9" text-anchor="start">CYANO-CON fitting line</text>
<text transform="translate(182.7 337.2) scale(1.0 1.05)" font-size="12.9" text-anchor="start">BD-CON fitting line</text>
<rect x="418.2" y="267.6" width="260.6" height="208.4" fill="none" stroke="#000" stroke-width="1.6"/>
<g>
<circle cx="612" cy="400.1" r="2.7" fill="#d72323"/>
<circle cx="612.3" cy="400.5" r="2.7" fill="#d72323"/>
<circle cx="427.5" cy="291.4" r="2.7" fill="#4678be"/>
<circle cx="425" cy="295.3" r="2.7" fill="#4678be"/>
<circle cx="420.6" cy="321.6" r="2.7" fill="#4678be"/>
<circle cx="438.4" cy="321.2" r="2.7" fill="#4678be"/>
<circle cx="445" cy="323.1" r="2.7" fill="#4678be"/>
<circle cx="443.1" cy="327.9" r="2.7" fill="#4678be"/>
<circle cx="454.2" cy="307" r="2.7" fill="#4678be"/>
<circle cx="456" cy="330.8" r="2.7" fill="#4678be"/>
<circle cx="462.5" cy="327" r="2.7" fill="#4678be"/>
<circle cx="467.6" cy="322.3" r="2.7" fill="#4678be"/>
<circle cx="469.8" cy="323.5" r="2.7" fill="#4678be"/>
<circle cx="474.2" cy="327.4" r="2.7" fill="#4678be"/>
<circle cx="476.4" cy="326" r="2.7" fill="#4678be"/>
<circle cx="482.2" cy="332.6" r="2.7" fill="#4678be"/>
<circle cx="486.6" cy="331.8" r="2.7" fill="#4678be"/>
<circle cx="491" cy="335.2" r="2.7" fill="#4678be"/>
<circle cx="492.5" cy="330.8" r="2.7" fill="#4678be"/>
<circle cx="494.6" cy="330.4" r="2.7" fill="#4678be"/>
<circle cx="499.8" cy="347.2" r="2.7" fill="#4678be"/>
<circle cx="505.6" cy="346.4" r="2.7" fill="#4678be"/>
<circle cx="510.7" cy="342.8" r="2.7" fill="#4678be"/>
<circle cx="512.9" cy="340.1" r="2.7" fill="#4678be"/>
<circle cx="515.1" cy="347.9" r="2.7" fill="#4678be"/>
<circle cx="437" cy="312.8" r="2.7" fill="#4678be"/>
<circle cx="440.6" cy="314.3" r="2.7" fill="#4678be"/>
<circle cx="501.6" cy="346.5" r="2.7" fill="#4678be"/>
<circle cx="503.1" cy="329.5" r="2.7" fill="#4678be"/>
<circle cx="508.5" cy="352.7" r="2.7" fill="#4678be"/>
<circle cx="507" cy="345.7" r="2.7" fill="#4678be"/>
<circle cx="510.9" cy="341.1" r="2.7" fill="#4678be"/>
<circle cx="513.2" cy="340.3" r="2.7" fill="#4678be"/>
<circle cx="521.7" cy="341.9" r="2.7" fill="#4678be"/>
<circle cx="523.3" cy="344.2" r="2.7" fill="#4678be"/>
<circle cx="515.5" cy="349.3" r="2.7" fill="#4678be"/>
<circle cx="517.8" cy="356.6" r="2.7" fill="#4678be"/>
<circle cx="519.4" cy="358.9" r="2.7" fill="#4678be"/>
<circle cx="530.2" cy="339.1" r="2.7" fill="#4678be"/>
<circle cx="527.9" cy="362" r="2.7" fill="#4678be"/>
<circle cx="526.4" cy="365.9" r="2.7" fill="#4678be"/>
<circle cx="537.2" cy="365.9" r="2.7" fill="#4678be"/>
<circle cx="541.1" cy="362.8" r="2.7" fill="#4678be"/>
<circle cx="543.4" cy="365.9" r="2.7" fill="#4678be"/>
<circle cx="558.6" cy="364.8" r="2.7" fill="#4678be"/>
<circle cx="532.6" cy="377.5" r="2.7" fill="#4678be"/>
<circle cx="538.8" cy="376.7" r="2.7" fill="#4678be"/>
<circle cx="545" cy="374.4" r="2.7" fill="#4678be"/>
<circle cx="551.9" cy="376" r="2.7" fill="#4678be"/>
<circle cx="556.6" cy="377.5" r="2.7" fill="#4678be"/>
<circle cx="569" cy="380" r="2.7" fill="#4678be"/>
<circle cx="525.8" cy="365.8" r="2.7" fill="#4678be"/>
<circle cx="527.3" cy="361.5" r="2.7" fill="#4678be"/>
<circle cx="536.8" cy="365.8" r="2.7" fill="#4678be"/>
<circle cx="541.2" cy="362.9" r="2.7" fill="#4678be"/>
<circle cx="543.4" cy="365.8" r="2.7" fill="#4678be"/>
<circle cx="558.7" cy="364.7" r="2.7" fill="#4678be"/>
<circle cx="532.4" cy="378.2" r="2.7" fill="#4678be"/>
<circle cx="534.6" cy="381.2" r="2.7" fill="#4678be"/>
<circle cx="539" cy="377.2" r="2.7" fill="#4678be"/>
<circle cx="545.5" cy="374.6" r="2.7" fill="#4678be"/>
<circle cx="547" cy="381.9" r="2.7" fill="#4678be"/>
<circle cx="549.9" cy="387" r="2.7" fill="#4678be"/>
<circle cx="552.1" cy="376.1" r="2.7" fill="#4678be"/>
<circle cx="556.5" cy="378.2" r="2.7" fill="#4678be"/>
<circle cx="560.1" cy="389.9" r="2.7" fill="#4678be"/>
<circle cx="565.3" cy="386" r="2.7" fill="#4678be"/>
<circle cx="569.6" cy="381.2" r="2.7" fill="#4678be"/>
<circle cx="578.1" cy="389.9" r="2.7" fill="#4678be"/>
<circle cx="586.9" cy="388" r="2.7" fill="#4678be"/>
<circle cx="584.2" cy="395" r="2.7" fill="#4678be"/>
<circle cx="582.8" cy="400.1" r="2.7" fill="#4678be"/>
<circle cx="554.3" cy="399.1" r="2.7" fill="#4678be"/>
<circle cx="563.1" cy="408.2" r="2.7" fill="#4678be"/>
<circle cx="571.8" cy="404.5" r="2.7" fill="#4678be"/>
<circle cx="575.5" cy="402.6" r="2.7" fill="#4678be"/>
<circle cx="590.1" cy="406.4" r="2.7" fill="#4678be"/>
<circle cx="588.6" cy="407.4" r="2.7" fill="#4678be"/>
<circle cx="595.2" cy="399.1" r="2.7" fill="#4678be"/>
<circle cx="600" cy="407.4" r="2.7" fill="#4678be"/>
<circle cx="597.4" cy="414.3" r="2.7" fill="#4678be"/>
<circle cx="603.9" cy="415.2" r="2.7" fill="#4678be"/>
<circle cx="606.1" cy="405.3" r="2.7" fill="#4678be"/>
<circle cx="608.3" cy="397.2" r="2.7" fill="#4678be"/>
<circle cx="610.5" cy="404.5" r="2.7" fill="#4678be"/>
<circle cx="612.7" cy="393.9" r="2.7" fill="#4678be"/>
<circle cx="614.9" cy="410.4" r="2.7" fill="#4678be"/>
<circle cx="617.1" cy="414.7" r="2.7" fill="#4678be"/>
<circle cx="593" cy="418.4" r="2.7" fill="#4678be"/>
<circle cx="666.6" cy="362.3" r="2.7" fill="#4678be"/>
<circle cx="642.8" cy="382.1" r="2.7" fill="#4678be"/>
<circle cx="671.5" cy="384" r="2.7" fill="#4678be"/>
<circle cx="662.7" cy="384" r="2.7" fill="#4678be"/>
<circle cx="612.9" cy="394.3" r="2.7" fill="#4678be"/>
<circle cx="608.4" cy="397.6" r="2.7" fill="#4678be"/>
<circle cx="630.3" cy="393.3" r="2.7" fill="#4678be"/>
<circle cx="645.3" cy="396.6" r="2.7" fill="#4678be"/>
<circle cx="594.8" cy="399.5" r="2.7" fill="#4678be"/>
<circle cx="590" cy="406.3" r="2.7" fill="#4678be"/>
<circle cx="599.7" cy="408.2" r="2.7" fill="#4678be"/>
<circle cx="606.5" cy="405.3" r="2.7" fill="#4678be"/>
<circle cx="611" cy="404.4" r="2.7" fill="#4678be"/>
<circle cx="623.9" cy="407.3" r="2.7" fill="#4678be"/>
<circle cx="634.6" cy="405.9" r="2.7" fill="#4678be"/>
<circle cx="625.9" cy="401.5" r="2.7" fill="#4678be"/>
<circle cx="647.2" cy="402.4" r="2.7" fill="#4678be"/>
<circle cx="654" cy="405.3" r="2.7" fill="#4678be"/>
<circle cx="614.8" cy="410.8" r="2.7" fill="#4678be"/>
<circle cx="617.2" cy="415" r="2.7" fill="#4678be"/>
<circle cx="604" cy="415" r="2.7" fill="#4678be"/>
<circle cx="597.8" cy="414.6" r="2.7" fill="#4678be"/>
<circle cx="592.9" cy="417.9" r="2.7" fill="#4678be"/>
<circle cx="619.1" cy="419.3" r="2.7" fill="#4678be"/>
<circle cx="640.8" cy="413.1" r="2.7" fill="#4678be"/>
<circle cx="553.9" cy="399.1" r="2.7" fill="#4678be"/>
<circle cx="562.9" cy="408.3" r="2.7" fill="#4678be"/>
<circle cx="571.7" cy="404.2" r="2.7" fill="#4678be"/>
<circle cx="575.8" cy="402.8" r="2.7" fill="#4678be"/>
<circle cx="582.9" cy="400.1" r="2.7" fill="#4678be"/>
<circle cx="589" cy="407.3" r="2.7" fill="#4678be"/>
<circle cx="599.3" cy="407.7" r="2.7" fill="#4678be"/>
<circle cx="607.4" cy="404.2" r="2.7" fill="#4678be"/>
<circle cx="614.6" cy="410.3" r="2.7" fill="#4678be"/>
<circle cx="623.8" cy="406.9" r="2.7" fill="#4678be"/>
<circle cx="634" cy="405.6" r="2.7" fill="#4678be"/>
<circle cx="653.4" cy="404.8" r="2.7" fill="#4678be"/>
<circle cx="597.2" cy="414.4" r="2.7" fill="#4678be"/>
<circle cx="604.4" cy="415" r="2.7" fill="#4678be"/>
<circle cx="593.5" cy="418.5" r="2.7" fill="#4678be"/>
<circle cx="601.7" cy="422" r="2.7" fill="#4678be"/>
<circle cx="616.6" cy="415" r="2.7" fill="#4678be"/>
<circle cx="619.3" cy="420.5" r="2.7" fill="#4678be"/>
<circle cx="638.5" cy="421.6" r="2.7" fill="#4678be"/>
<circle cx="641.2" cy="413" r="2.7" fill="#4678be"/>
<circle cx="580.5" cy="422.6" r="2.7" fill="#4678be"/>
<circle cx="567" cy="426.7" r="2.7" fill="#4678be"/>
<circle cx="608.5" cy="397" r="2.7" fill="#4678be"/>
<circle cx="425.2" cy="295.9" r="2.7" fill="#4678be"/>
<circle cx="453.7" cy="307.3" r="2.7" fill="#4678be"/>
<circle cx="420.8" cy="321.7" r="2.7" fill="#4678be"/>
<circle cx="438.3" cy="321.3" r="2.7" fill="#4678be"/>
<circle cx="445.3" cy="323" r="2.7" fill="#4678be"/>
<circle cx="442.7" cy="328.1" r="2.7" fill="#4678be"/>
<circle cx="456.3" cy="330.9" r="2.7" fill="#4678be"/>
<circle cx="462.4" cy="327.6" r="2.7" fill="#4678be"/>
<circle cx="467.7" cy="323" r="2.7" fill="#4678be"/>
<circle cx="473.4" cy="327.8" r="2.7" fill="#4678be"/>
<circle cx="468.6" cy="323.9" r="2.7" fill="#4678be"/>
<circle cx="416.8" cy="310.8" r="2.7" fill="#4678be"/>
<path d="M418.2,310.5 C421.82,310.95 432.93,312.02 439.9,313.2 C446.87,314.38 453.92,315.77 460,317.6 C466.08,319.43 471.73,322.03 476.4,324.2 C481.07,326.37 484.07,328.2 488,330.6 C491.93,333 496.45,336.2 500,338.6 C503.55,341 505.93,342.38 509.3,345 C512.67,347.62 516.58,351.38 520.2,354.3 C523.82,357.22 527.38,359.47 531,362.5 C534.62,365.53 537.65,368.67 541.9,372.5 C546.15,376.33 551.63,381.83 556.5,385.5 C561.37,389.17 566.23,392.15 571.1,394.5 C575.97,396.85 580.83,398.43 585.7,399.6 C590.57,400.77 594.58,401.1 600.3,401.5 C606.02,401.9 607.65,401.92 620,402 C632.35,402.08 665.33,402 674.4,402" fill="none" stroke="#4678be" stroke-width="2.4" stroke-linejoin="round" stroke-linecap="round"/>
<circle cx="419.2" cy="306" r="2.7" fill="#d72323"/>
<circle cx="427.5" cy="306.3" r="2.7" fill="#d72323"/>
<circle cx="431.9" cy="307" r="2.7" fill="#d72323"/>
<circle cx="435.2" cy="307.4" r="2.7" fill="#d72323"/>
<circle cx="420.2" cy="312.8" r="2.7" fill="#d72323"/>
<circle cx="425.3" cy="314.3" r="2.7" fill="#d72323"/>
<circle cx="429.7" cy="315" r="2.7" fill="#d72323"/>
<circle cx="449.4" cy="309.2" r="2.7" fill="#d72323"/>
<circle cx="460.3" cy="309.2" r="2.7" fill="#d72323"/>
<circle cx="456" cy="313.6" r="2.7" fill="#d72323"/>
<circle cx="463.3" cy="316.5" r="2.7" fill="#d72323"/>
<circle cx="469.1" cy="313.3" r="2.7" fill="#d72323"/>
<circle cx="473.5" cy="316.5" r="2.7" fill="#d72323"/>
<circle cx="458.6" cy="322.3" r="2.7" fill="#d72323"/>
<circle cx="479.3" cy="318.2" r="2.7" fill="#d72323"/>
<circle cx="481.5" cy="317.2" r="2.7" fill="#d72323"/>
<circle cx="484.4" cy="322.3" r="2.7" fill="#d72323"/>
<circle cx="489.5" cy="317.7" r="2.7" fill="#d72323"/>
<circle cx="492.5" cy="319.1" r="2.7" fill="#d72323"/>
<circle cx="495.4" cy="321.6" r="2.7" fill="#d72323"/>
<circle cx="501.9" cy="316.5" r="2.7" fill="#d72323"/>
<circle cx="497.6" cy="326.7" r="2.7" fill="#d72323"/>
<circle cx="499.8" cy="331.1" r="2.7" fill="#d72323"/>
<circle cx="505.6" cy="327.4" r="2.7" fill="#d72323"/>
<circle cx="508.5" cy="329.6" r="2.7" fill="#d72323"/>
<circle cx="513.6" cy="328.9" r="2.7" fill="#d72323"/>
<circle cx="515.8" cy="324.5" r="2.7" fill="#d72323"/>
<circle cx="485.9" cy="325.3" r="2.7" fill="#d72323"/>
<circle cx="501.9" cy="316.3" r="2.7" fill="#d72323"/>
<circle cx="500.8" cy="328.7" r="2.7" fill="#d72323"/>
<circle cx="504.7" cy="327.1" r="2.7" fill="#d72323"/>
<circle cx="507.8" cy="329.5" r="2.7" fill="#d72323"/>
<circle cx="510.9" cy="328.7" r="2.7" fill="#d72323"/>
<circle cx="514.7" cy="324.8" r="2.7" fill="#d72323"/>
<circle cx="517.1" cy="326.4" r="2.7" fill="#d72323"/>
<circle cx="520.2" cy="332.6" r="2.7" fill="#d72323"/>
<circle cx="523.3" cy="326.4" r="2.7" fill="#d72323"/>
<circle cx="525.6" cy="330.2" r="2.7" fill="#d72323"/>
<circle cx="528.7" cy="329.5" r="2.7" fill="#d72323"/>
<circle cx="531" cy="331.8" r="2.7" fill="#d72323"/>
<circle cx="532.6" cy="338" r="2.7" fill="#d72323"/>
<circle cx="536.4" cy="337.2" r="2.7" fill="#d72323"/>
<circle cx="538.8" cy="336.4" r="2.7" fill="#d72323"/>
<circle cx="541.1" cy="343.4" r="2.7" fill="#d72323"/>
<circle cx="544.2" cy="339.5" r="2.7" fill="#d72323"/>
<circle cx="547.3" cy="340.3" r="2.7" fill="#d72323"/>
<circle cx="550.4" cy="341.9" r="2.7" fill="#d72323"/>
<circle cx="552.7" cy="338.8" r="2.7" fill="#d72323"/>
<circle cx="556.6" cy="332.6" r="2.7" fill="#d72323"/>
<circle cx="558.9" cy="333.3" r="2.7" fill="#d72323"/>
<circle cx="560.5" cy="341.9" r="2.7" fill="#d72323"/>
<circle cx="565.1" cy="348.1" r="2.7" fill="#d72323"/>
<circle cx="568.2" cy="346.5" r="2.7" fill="#d72323"/>
<circle cx="564.8" cy="357.4" r="2.7" fill="#d72323"/>
<circle cx="572.1" cy="354.3" r="2.7" fill="#d72323"/>
<circle cx="576" cy="350.4" r="2.7" fill="#d72323"/>
<circle cx="578.3" cy="340.3" r="2.7" fill="#d72323"/>
<circle cx="582.2" cy="346.5" r="2.7" fill="#d72323"/>
<circle cx="584.5" cy="355" r="2.7" fill="#d72323"/>
<circle cx="588.4" cy="357.4" r="2.7" fill="#d72323"/>
<circle cx="595.3" cy="356.1" r="2.7" fill="#d72323"/>
<circle cx="591.5" cy="367.4" r="2.7" fill="#d72323"/>
<circle cx="597.7" cy="365.9" r="2.7" fill="#d72323"/>
<circle cx="599.2" cy="372.9" r="2.7" fill="#d72323"/>
<circle cx="591.5" cy="368" r="2.7" fill="#d72323"/>
<circle cx="597.4" cy="365.8" r="2.7" fill="#d72323"/>
<circle cx="599.6" cy="372.4" r="2.7" fill="#d72323"/>
<circle cx="601.8" cy="376.8" r="2.7" fill="#d72323"/>
<circle cx="603.9" cy="383.4" r="2.7" fill="#d72323"/>
<circle cx="607.6" cy="382.6" r="2.7" fill="#d72323"/>
<circle cx="610.5" cy="374.6" r="2.7" fill="#d72323"/>
<circle cx="614.9" cy="384.1" r="2.7" fill="#d72323"/>
<circle cx="617.8" cy="382.6" r="2.7" fill="#d72323"/>
<circle cx="595.4" cy="356.3" r="2.7" fill="#d72323"/>
<circle cx="590" cy="356.8" r="2.7" fill="#d72323"/>
<circle cx="597.4" cy="366" r="2.7" fill="#d72323"/>
<circle cx="591.9" cy="368.5" r="2.7" fill="#d72323"/>
<circle cx="599.7" cy="372.8" r="2.7" fill="#d72323"/>
<circle cx="602" cy="377.2" r="2.7" fill="#d72323"/>
<circle cx="610.4" cy="375.3" r="2.7" fill="#d72323"/>
<circle cx="621.4" cy="378.2" r="2.7" fill="#d72323"/>
<circle cx="604.5" cy="384" r="2.7" fill="#d72323"/>
<circle cx="608.4" cy="383" r="2.7" fill="#d72323"/>
<circle cx="615.2" cy="384" r="2.7" fill="#d72323"/>
<circle cx="617.2" cy="383" r="2.7" fill="#d72323"/>
<circle cx="632.3" cy="386" r="2.7" fill="#d72323"/>
<circle cx="638.9" cy="383.6" r="2.7" fill="#d72323"/>
<circle cx="620.1" cy="392.7" r="2.7" fill="#d72323"/>
<circle cx="625.9" cy="394.7" r="2.7" fill="#d72323"/>
<circle cx="634.6" cy="396" r="2.7" fill="#d72323"/>
<circle cx="642.4" cy="389.8" r="2.7" fill="#d72323"/>
<circle cx="647.2" cy="393.3" r="2.7" fill="#d72323"/>
<circle cx="651.1" cy="394.7" r="2.7" fill="#d72323"/>
<circle cx="657.9" cy="389.4" r="2.7" fill="#d72323"/>
<circle cx="662.7" cy="385" r="2.7" fill="#d72323"/>
<circle cx="666.6" cy="385" r="2.7" fill="#d72323"/>
<circle cx="669.1" cy="375.9" r="2.7" fill="#d72323"/>
<circle cx="672.4" cy="384" r="2.7" fill="#d72323"/>
<circle cx="666.6" cy="396.6" r="2.7" fill="#d72323"/>
<circle cx="659.8" cy="394.7" r="2.7" fill="#d72323"/>
<circle cx="656" cy="397.6" r="2.7" fill="#d72323"/>
<circle cx="628.8" cy="403.4" r="2.7" fill="#d72323"/>
<circle cx="623.9" cy="399.5" r="2.7" fill="#d72323"/>
<circle cx="640.8" cy="415" r="2.7" fill="#d72323"/>
<circle cx="640.6" cy="415.4" r="2.7" fill="#d72323"/>
<circle cx="418.6" cy="306" r="2.7" fill="#d72323"/>
<circle cx="423" cy="307.7" r="2.7" fill="#d72323"/>
<circle cx="427.4" cy="306" r="2.7" fill="#d72323"/>
<circle cx="431.3" cy="306" r="2.7" fill="#d72323"/>
<circle cx="434.4" cy="306.8" r="2.7" fill="#d72323"/>
<circle cx="436.6" cy="308.1" r="2.7" fill="#d72323"/>
<circle cx="449.3" cy="309.5" r="2.7" fill="#d72323"/>
<circle cx="455.9" cy="312.5" r="2.7" fill="#d72323"/>
<circle cx="460.7" cy="309" r="2.7" fill="#d72323"/>
<circle cx="469" cy="312.5" r="2.7" fill="#d72323"/>
<circle cx="420" cy="313" r="2.7" fill="#d72323"/>
<circle cx="424.8" cy="315.1" r="2.7" fill="#d72323"/>
<circle cx="429.1" cy="315.1" r="2.7" fill="#d72323"/>
<circle cx="462.9" cy="316" r="2.7" fill="#d72323"/>
<circle cx="472.9" cy="316" r="2.7" fill="#d72323"/>
<circle cx="458.5" cy="322.2" r="2.7" fill="#d72323"/>
<circle cx="474" cy="317.5" r="2.7" fill="#d72323"/>
<circle cx="481.9" cy="318.4" r="2.7" fill="#d72323"/>
<circle cx="486.3" cy="323.6" r="2.7" fill="#d72323"/>
<circle cx="488.9" cy="317.5" r="2.7" fill="#d72323"/>
<circle cx="490.6" cy="318.4" r="2.7" fill="#d72323"/>
<circle cx="495" cy="321" r="2.7" fill="#d72323"/>
<circle cx="496.8" cy="324.5" r="2.7" fill="#d72323"/>
<circle cx="499.4" cy="330.6" r="2.7" fill="#d72323"/>
<circle cx="505.5" cy="329.8" r="2.7" fill="#d72323"/>
<circle cx="509" cy="328" r="2.7" fill="#d72323"/>
<circle cx="513.4" cy="325.4" r="2.7" fill="#d72323"/>
<circle cx="516" cy="323.6" r="2.7" fill="#d72323"/>
<circle cx="485" cy="321" r="2.7" fill="#d72323"/>
<circle cx="478" cy="319.5" r="2.7" fill="#d72323"/>
<circle cx="470" cy="316" r="2.7" fill="#d72323"/>
<circle cx="445" cy="311" r="2.7" fill="#d72323"/>
<circle cx="452" cy="312" r="2.7" fill="#d72323"/>
<path d="M418.2,315.5 C423.5,315.83 440.37,316.78 450,317.5 C459.63,318.22 467.67,318.83 476,319.8 C484.33,320.77 493.42,322.08 500,323.3 C506.58,324.52 510.33,325.43 515.5,327.1 C520.67,328.77 525.83,331.23 531,333.3 C536.17,335.37 542.62,337.68 546.5,339.5 C550.38,341.32 551.2,342.25 554.3,344.2 C557.4,346.15 561.23,348.23 565.1,351.2 C568.97,354.17 573.62,358.9 577.5,362 C581.38,365.1 584.7,367.1 588.4,369.8 C592.1,372.5 596.2,375.5 599.7,378.2 C603.2,380.9 606.17,383.58 609.4,386 C612.63,388.42 615.87,390.77 619.1,392.7 C622.33,394.63 624.6,396.3 628.8,397.6 C633,398.9 636.7,399.88 644.3,400.5 C651.9,401.12 669.38,401.17 674.4,401.3" fill="none" stroke="#d72323" stroke-width="2.4" stroke-linejoin="round" stroke-linecap="round"/>
</g>
<line x1="418.2" y1="309.28" x2="678.8" y2="309.28" stroke="#000" stroke-width="1.7"/>
<line x1="413.7" y1="267.6" x2="418.2" y2="267.6" stroke="#000" stroke-width="1.4"/>
<text transform="translate(410.5 272) scale(1.0 1.09)" font-size="13.5" text-anchor="end" class="tk">0.002</text>
<line x1="413.7" y1="309.28" x2="418.2" y2="309.28" stroke="#000" stroke-width="1.4"/>
<text transform="translate(410.5 313.68) scale(1.0 1.09)" font-size="13.5" text-anchor="end" class="tk">0.000</text>
<line x1="413.7" y1="350.96" x2="418.2" y2="350.96" stroke="#000" stroke-width="1.4"/>
<text transform="translate(410.5 355.36) scale(1.0 1.09)" font-size="13.5" text-anchor="end" class="tk">-0.002</text>
<line x1="413.7" y1="392.64" x2="418.2" y2="392.64" stroke="#000" stroke-width="1.4"/>
<text transform="translate(410.5 397.04) scale(1.0 1.09)" font-size="13.5" text-anchor="end" class="tk">-0.004</text>
<line x1="413.7" y1="434.32" x2="418.2" y2="434.32" stroke="#000" stroke-width="1.4"/>
<text transform="translate(410.5 438.72) scale(1.0 1.09)" font-size="13.5" text-anchor="end" class="tk">-0.006</text>
<line x1="413.7" y1="476" x2="418.2" y2="476" stroke="#000" stroke-width="1.4"/>
<text transform="translate(410.5 480.4) scale(1.0 1.09)" font-size="13.5" text-anchor="end" class="tk">-0.008</text>
<line x1="415.3" y1="288.44" x2="418.2" y2="288.44" stroke="#000" stroke-width="1.4"/>
<line x1="415.3" y1="330.12" x2="418.2" y2="330.12" stroke="#000" stroke-width="1.4"/>
<line x1="415.3" y1="371.8" x2="418.2" y2="371.8" stroke="#000" stroke-width="1.4"/>
<line x1="415.3" y1="413.48" x2="418.2" y2="413.48" stroke="#000" stroke-width="1.4"/>
<line x1="415.3" y1="455.16" x2="418.2" y2="455.16" stroke="#000" stroke-width="1.4"/>
<line x1="418.2" y1="476" x2="418.2" y2="480.5" stroke="#000" stroke-width="1.4"/>
<text transform="translate(418.2 493.7) scale(1.0 1.06)" font-size="13.6" text-anchor="middle" class="tk">10</text>
<line x1="507.8" y1="476" x2="507.8" y2="480.5" stroke="#000" stroke-width="1.4"/>
<text transform="translate(507.8 493.7) scale(1.0 1.06)" font-size="13.6" text-anchor="middle" class="tk">100</text>
<line x1="597.4" y1="476" x2="597.4" y2="480.5" stroke="#000" stroke-width="1.4"/>
<text transform="translate(597.4 493.7) scale(1.0 1.06)" font-size="13.6" text-anchor="middle" class="tk">1000</text>
<line x1="445.17" y1="476" x2="445.17" y2="478.9" stroke="#000" stroke-width="1.4"/>
<line x1="460.95" y1="476" x2="460.95" y2="478.9" stroke="#000" stroke-width="1.4"/>
<line x1="472.14" y1="476" x2="472.14" y2="478.9" stroke="#000" stroke-width="1.4"/>
<line x1="480.83" y1="476" x2="480.83" y2="478.9" stroke="#000" stroke-width="1.4"/>
<line x1="487.92" y1="476" x2="487.92" y2="478.9" stroke="#000" stroke-width="1.4"/>
<line x1="493.92" y1="476" x2="493.92" y2="478.9" stroke="#000" stroke-width="1.4"/>
<line x1="499.12" y1="476" x2="499.12" y2="478.9" stroke="#000" stroke-width="1.4"/>
<line x1="503.7" y1="476" x2="503.7" y2="478.9" stroke="#000" stroke-width="1.4"/>
<line x1="534.77" y1="476" x2="534.77" y2="478.9" stroke="#000" stroke-width="1.4"/>
<line x1="550.55" y1="476" x2="550.55" y2="478.9" stroke="#000" stroke-width="1.4"/>
<line x1="561.74" y1="476" x2="561.74" y2="478.9" stroke="#000" stroke-width="1.4"/>
<line x1="570.43" y1="476" x2="570.43" y2="478.9" stroke="#000" stroke-width="1.4"/>
<line x1="577.52" y1="476" x2="577.52" y2="478.9" stroke="#000" stroke-width="1.4"/>
<line x1="583.52" y1="476" x2="583.52" y2="478.9" stroke="#000" stroke-width="1.4"/>
<line x1="588.72" y1="476" x2="588.72" y2="478.9" stroke="#000" stroke-width="1.4"/>
<line x1="593.3" y1="476" x2="593.3" y2="478.9" stroke="#000" stroke-width="1.4"/>
<line x1="624.37" y1="476" x2="624.37" y2="478.9" stroke="#000" stroke-width="1.4"/>
<line x1="640.15" y1="476" x2="640.15" y2="478.9" stroke="#000" stroke-width="1.4"/>
<line x1="651.34" y1="476" x2="651.34" y2="478.9" stroke="#000" stroke-width="1.4"/>
<line x1="660.03" y1="476" x2="660.03" y2="478.9" stroke="#000" stroke-width="1.4"/>
<line x1="667.12" y1="476" x2="667.12" y2="478.9" stroke="#000" stroke-width="1.4"/>
<line x1="673.12" y1="476" x2="673.12" y2="478.9" stroke="#000" stroke-width="1.4"/>
<line x1="678.32" y1="476" x2="678.32" y2="478.9" stroke="#000" stroke-width="1.4"/>
<text x="548.9" y="512.9" font-size="16" text-anchor="middle">Time (ps)</text>
<text x="364.3" y="382.3" font-size="16" text-anchor="middle" transform="rotate(-90 364.3 382.3)">Normalized &#916;OD</text>
<text transform="translate(338.4 279.8) scale(1.07 1.0)" font-size="22" text-anchor="start">(d)</text>
<circle cx="439.9" cy="413.5" r="2.7" fill="#4678be"/>
<circle cx="439.9" cy="429.9" r="2.7" fill="#d72323"/>
<line x1="423.9" y1="445.9" x2="454" y2="445.9" stroke="#4678be" stroke-width="2.4"/>
<line x1="423.9" y1="461.2" x2="454" y2="461.2" stroke="#d72323" stroke-width="2.4"/>
<text transform="translate(457.9 418) scale(1.0 1.05)" font-size="12.9" text-anchor="start">BD-CON+AA</text>
<text transform="translate(457.9 434) scale(1.0 1.05)" font-size="12.9" text-anchor="start">CYANO-CON+AA</text>
<text transform="translate(457.9 450.2) scale(1.0 1.05)" font-size="12.9" text-anchor="start">BD-CON+AA fitting line</text>
<text transform="translate(457.9 465.6) scale(1.0 1.05)" font-size="12.9" text-anchor="start">CYANO-CON+AA fitting line</text>
</svg>
</body></html>
